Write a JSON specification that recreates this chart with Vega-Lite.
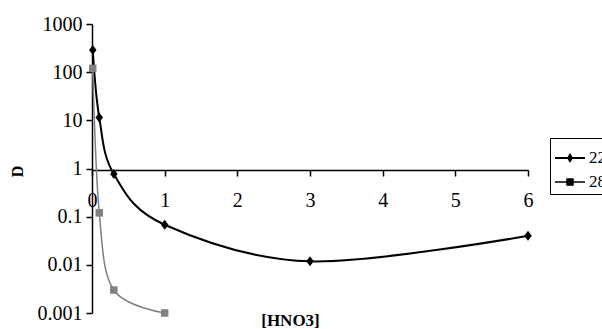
{
  "$schema": "https://vega.github.io/schema/vega-lite/v6.json",
  "width": 436,
  "height": 289,
  "autosize": {"type": "none"},
  "padding": {"left": 92, "top": 24, "right": 74, "bottom": 16},
  "background": "white",
  "config": {
    "view": {"stroke": null},
    "font": "Liberation Serif",
    "axis": {
      "grid": false,
      "domainColor": "black",
      "domainWidth": 1.5,
      "tickColor": "black",
      "tickWidth": 1.5,
      "tickSize": 6,
      "labelColor": "black",
      "labelFont": "Liberation Serif",
      "labelFontSize": 20,
      "titleColor": "black",
      "titleFont": "Liberation Serif",
      "titleFontWeight": "bold"
    },
    "legend": {
      "labelFont": "Liberation Serif"
    },
    "text": {"font": "Liberation Serif"}
  },
  "data": {
    "values": [
      {"series": "22", "x": 0.01, "D": 290},
      {"series": "22", "x": 0.1, "D": 11.4},
      {"series": "22", "x": 0.3, "D": 0.77},
      {"series": "22", "x": 1, "D": 0.068},
      {"series": "22", "x": 3, "D": 0.0118},
      {"series": "22", "x": 6, "D": 0.04},
      {"series": "28", "x": 0.01, "D": 120},
      {"series": "28", "x": 0.1, "D": 0.12},
      {"series": "28", "x": 0.3, "D": 0.003},
      {"series": "28", "x": 1, "D": 0.001}
    ]
  },
  "encoding": {
    "x": {
      "field": "x",
      "type": "quantitative",
      "scale": {"domain": [0, 6], "nice": false, "zero": false},
      "axis": {
        "values": [0, 1, 2, 3, 4, 5, 6],
        "format": "d",
        "offset": -143,
        "labelPadding": 14,
        "labelFlush": false,
        "labelOverlap": false,
        "labelFont": "Liberation Serif",
        "title": "[HNO3]",
        "titleFont": "Liberation Serif",
        "titleFontSize": 17,
        "titleX": 198,
        "titleY": 155,
        "titleAlign": "center",
        "titleBaseline": "alphabetic"
      }
    },
    "y": {
      "field": "D",
      "type": "quantitative",
      "scale": {"type": "log", "domain": [0.001, 1000], "nice": false},
      "axis": {
        "values": [0.001, 0.01, 0.1, 1, 10, 100, 1000],
        "format": "~r",
        "labelPadding": 4,
        "labelFlush": false,
        "labelOverlap": false,
        "labelFont": "Liberation Serif",
        "title": "D",
        "titleFont": "Liberation Serif",
        "titleFontSize": 16,
        "titleAngle": 270,
        "titleX": -75,
        "titleY": 147,
        "titleAlign": "center",
        "titleBaseline": "middle"
      }
    },
    "color": {
      "field": "series",
      "type": "nominal",
      "scale": {"domain": ["22", "28"], "range": ["#000000", "#808080"]},
      "legend": null
    }
  },
  "layer": [
    {
      "mark": {"type": "line", "interpolate": "cardinal"},
      "encoding": {
        "strokeWidth": {
          "field": "series",
          "type": "ordinal",
          "scale": {"domain": ["22", "28"], "range": [2, 1.5]},
          "legend": null
        }
      }
    },
    {
      "mark": {"type": "point", "filled": true, "opacity": 1},
      "encoding": {
        "shape": {
          "field": "series",
          "type": "nominal",
          "scale": {"domain": ["22", "28"], "range": ["M0,-1L0.75,0L0,1L-0.75,0Z", "M-1,-1H1V1H-1Z"]},
          "legend": null
        },
        "size": {
          "field": "series",
          "type": "nominal",
          "scale": {"domain": ["22", "28"], "range": [100, 56]},
          "legend": null
        }
      }
    },
    {
      "transform": [{"filter": "false"}],
      "mark": {"type": "point", "filled": true, "opacity": 1, "size": 900},
      "encoding": {
        "shape": {
          "field": "series",
          "type": "nominal",
          "scale": {
            "domain": ["22", "28"],
            "range": [
              "M-1,-0.067H1V0.067H-1ZM-0.2,0L0,-0.33L0.2,0L0,0.33Z",
              "M-1,-0.05H1V0.05H-1ZM-0.25,-0.25H0.25V0.25H-0.25Z"
            ]
          },
          "legend": {
            "orient": "none",
            "legendX": 458,
            "legendY": 114,
            "title": null,
            "strokeColor": "black",
            "fillColor": "white",
            "padding": 4,
            "labelFont": "Liberation Serif",
            "labelFontSize": 17,
            "labelColor": "black",
            "labelOffset": 3,
            "rowPadding": -2,
            "symbolSize": 900,
            "encode": {
              "symbols": {
                "update": {
                  "fill": {"signal": "scale('color', datum.value)"},
                  "opacity": {"value": 1}
                }
              }
            }
          }
        }
      }
    }
  ],
  "resolve": {"scale": {"shape": "independent", "size": "independent"}}
}
